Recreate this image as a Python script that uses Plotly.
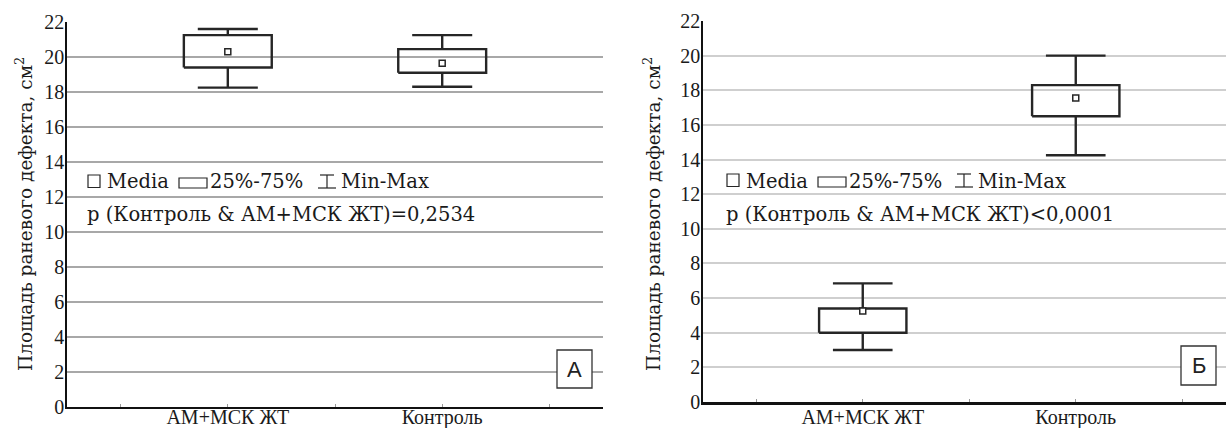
import plotly.graph_objects as go

# ---------------- data ----------------
categories = ["АМ+МСК ЖТ", "Контроль"]
cat_pos = [1, 2]

a_median = [20.3, 19.65]
a_q1 = [19.4, 19.1]
a_q3 = [21.25, 20.45]
a_min = [18.25, 18.3]
a_max = [21.6, 21.25]

b_median = [5.25, 17.55]
b_q1 = [4.0, 16.5]
b_q3 = [5.4, 18.3]
b_min = [3.0, 14.25]
b_max = [6.85, 20.0]

y_ticks = list(range(0, 23, 2))
y_title = "Площадь раневого дефекта, см<sup>2</sup>"
p_text_a = "p (Контроль & АМ+МСК ЖТ)=0,2534"
p_text_b = "p (Контроль & АМ+МСК ЖТ)<0,0001"
legend_words = ["Media", "25%-75%", "Min-Max"]
panel_labels = ["А", "Б"]

# ---------------- layout geometry (pixels) ----------------
W, H = 1226, 428
PANELS = [
    dict(x0=67, x1=603, ytop=22, ybot=407),
    dict(x0=703, x1=1226, ytop=21, ybot=402),
]
TIMES = "Liberation Serif, Times New Roman, serif"
WIDE = "DejaVu Serif, Liberation Serif, serif"
SANS = "Liberation Sans, Arial, sans-serif"
INK = "#262626"
TXT = "#1a1a1a"
BOX_HALF = 0.205
CAP_HALF = 0.14

fig = go.Figure()


def add_panel(med, q1, q3, lo, hi, xa, ya):
    xs, ys = [], []
    for x, a, b, mn, mx in zip(cat_pos, q1, q3, lo, hi):
        xs += [x - BOX_HALF, x + BOX_HALF, x + BOX_HALF, x - BOX_HALF, x - BOX_HALF, None]
        ys += [a, a, b, b, a, None]
        xs += [x, x, None, x - CAP_HALF, x + CAP_HALF, None]
        ys += [a, mn, None, mn, mn, None]
        xs += [x, x, None, x - CAP_HALF, x + CAP_HALF, None]
        ys += [b, mx, None, mx, mx, None]
    fig.add_trace(go.Scatter(x=xs, y=ys, mode="lines", xaxis=xa, yaxis=ya,
                             line=dict(color=INK, width=2.4), showlegend=False,
                             hoverinfo="skip"))
    fig.add_trace(go.Scatter(x=cat_pos, y=med, mode="markers", xaxis=xa, yaxis=ya,
                             marker=dict(symbol="square", size=6, color="white",
                                         line=dict(color=INK, width=1.5)),
                             showlegend=False))


add_panel(a_median, a_q1, a_q3, a_min, a_max, "x", "y")
add_panel(b_median, b_q1, b_q3, b_min, b_max, "x2", "y2")

layout = dict(
    width=W, height=H, margin=dict(l=0, r=0, t=0, b=0, autoexpand=False),
    paper_bgcolor="white", plot_bgcolor="white", showlegend=False,
    font=dict(family=TIMES, color=TXT, size=18),
)

grid_colors = ["#a8a8a8", "#cfcfcf"]
xranges = [[0.25, 2.75], [0.25, 0.25 + (1226 - 703) / 213.0]]
bottom_widths = [1.5, 2.5]
top_colors = ["#4a4a4a", "#8a8a8a"]
label_standoff = [-9, -5]

for i, p in enumerate(PANELS):
    sx = "" if i == 0 else "2"
    xd = [p["x0"] / W, p["x1"] / W]
    yd = [(H - p["ybot"]) / H, (H - p["ytop"]) / H]
    layout["xaxis" + sx] = dict(
        domain=xd, range=xranges[i], anchor="y" + sx, automargin=False,
        tickvals=cat_pos, ticktext=categories, ticks="inside", ticklen=3,
        tickcolor="#999", showgrid=False, zeroline=False, showline=True,
        linecolor="#111", linewidth=bottom_widths[i],
        tickfont=dict(family=TIMES, size=20, color=TXT),
        ticklabelstandoff=label_standoff[i],
        minor=dict(tickvals=[0.5, 1.5, 2.5], ticks="inside", ticklen=3, tickcolor="#999"),
        fixedrange=True,
    )
    layout["yaxis" + sx] = dict(
        domain=yd, range=[0, 22], anchor="x" + sx, tickvals=y_ticks, automargin=False,
        showgrid=True, gridcolor=grid_colors[i], gridwidth=2, zeroline=False,
        showline=True, linecolor="#111", linewidth=1.5, ticks="",
        tickfont=dict(family=TIMES, size=20, color=TXT),
        ticklabelstandoff=-3, fixedrange=True,
    )
    sx3 = str(3 + i)
    layout["xaxis" + sx3] = dict(
        domain=xd, range=xranges[i], overlaying="x" + sx, anchor="y" + sx,
        side="top", showline=True, linecolor=top_colors[i], linewidth=1.2,
        tickvals=[0.5, 1, 1.5, 2, 2.5], ticks="inside", ticklen=4, automargin=False,
        tickcolor="#333", showticklabels=False, showgrid=False, zeroline=False,
        fixedrange=True,
    )

layout["yaxis3"] = dict(
    domain=[(H - PANELS[0]["ybot"]) / H, (H - PANELS[0]["ytop"]) / H],
    range=[0, 22], overlaying="y", anchor="x", side="right", automargin=False,
    showline=True, linecolor="#d0d0d0", linewidth=1, tickvals=y_ticks,
    ticks="outside", ticklen=3, tickcolor="#555", showticklabels=False,
    showgrid=False, zeroline=False, fixedrange=True,
)

fig.update_layout(**layout)


def fx(i, px):
    p = PANELS[i]
    return (px - p["x0"]) / (p["x1"] - p["x0"])


def fy(i, py):
    p = PANELS[i]
    return (p["ybot"] - py) / (p["ybot"] - p["ytop"])


legend_px = [
    dict(sq=(88, 100), rect=(179, 207), ib=(318, 336), words=[105, 208, 339], row1=181, row2=213, p=85),
    dict(sq=(727, 739), rect=(818, 846), ib=(955, 973), words=[744, 847, 976], row1=180, row2=213, p=724),
]
p_texts = [p_text_a, p_text_b]
label_box = [(557, 592, 350, 388), (1181, 1216, 346, 385)]

for i, L in enumerate(legend_px):
    sx = "" if i == 0 else "2"
    xr, yr = "x" + sx + " domain", "y" + sx + " domain"
    r1 = L["row1"]
    fig.add_shape(type="rect", xref=xr, yref=yr,
                  x0=fx(i, L["sq"][0]), x1=fx(i, L["sq"][1]),
                  y0=fy(i, r1 + 6.5), y1=fy(i, r1 - 6),
                  line=dict(color=INK, width=1.2), fillcolor="white")
    fig.add_shape(type="rect", xref=xr, yref=yr,
                  x0=fx(i, L["rect"][0]), x1=fx(i, L["rect"][1]),
                  y0=fy(i, r1 + 7), y1=fy(i, r1 - 3),
                  line=dict(color=INK, width=1.2), fillcolor="white")
    a, b = L["ib"]
    m = (a + b) / 2
    for (xa0, xa1, ya0, ya1) in [(a + 2, b - 2, r1 - 6, r1 - 6), (a, b, r1 + 7, r1 + 7),
                                 (m, m, r1 - 6, r1 + 7)]:
        fig.add_shape(type="line", xref=xr, yref=yr,
                      x0=fx(i, xa0), x1=fx(i, xa1), y0=fy(i, ya0), y1=fy(i, ya1),
                      line=dict(color=INK, width=1.2))
    for txt, px in zip(legend_words, L["words"]):
        fig.add_annotation(text=txt, xref=xr, yref=yr, x=fx(i, px), y=fy(i, r1 + 1),
                           xanchor="left", yanchor="middle", showarrow=False,
                           font=dict(family=WIDE, size=19.5, color=TXT))
    fig.add_annotation(text=p_texts[i], xref=xr, yref=yr, x=fx(i, L["p"]), y=fy(i, L["row2"] + 1),
                       xanchor="left", yanchor="middle", showarrow=False,
                       font=dict(family=WIDE, size=19.5, color=TXT))
    bx0, bx1, by0, by1 = label_box[i]
    fig.add_shape(type="rect", xref=xr, yref=yr,
                  x0=fx(i, bx0), x1=fx(i, bx1), y0=fy(i, by1), y1=fy(i, by0),
                  line=dict(color="#333", width=1.3), fillcolor="white")
    fig.add_annotation(text=panel_labels[i], xref=xr, yref=yr,
                       x=fx(i, (bx0 + bx1) / 2), y=fy(i, (by0 + by1) / 2),
                       xanchor="center", yanchor="middle", showarrow=False,
                       font=dict(family=SANS, size=22, color="#222"))

for px_x, py in [(24, 214), (652, 214)]:
    fig.add_annotation(text=y_title, xref="paper", yref="paper",
                       x=px_x / W, y=(H - py) / H, textangle=-90,
                       xanchor="center", yanchor="middle", showarrow=False,
                       font=dict(family=WIDE, size=18.5, color=TXT))

fig.write_html(
    "out.html",
    config={"displayModeBar": False},
    post_script="document.body.style.margin='0px';document.body.style.overflow='hidden';",
)
